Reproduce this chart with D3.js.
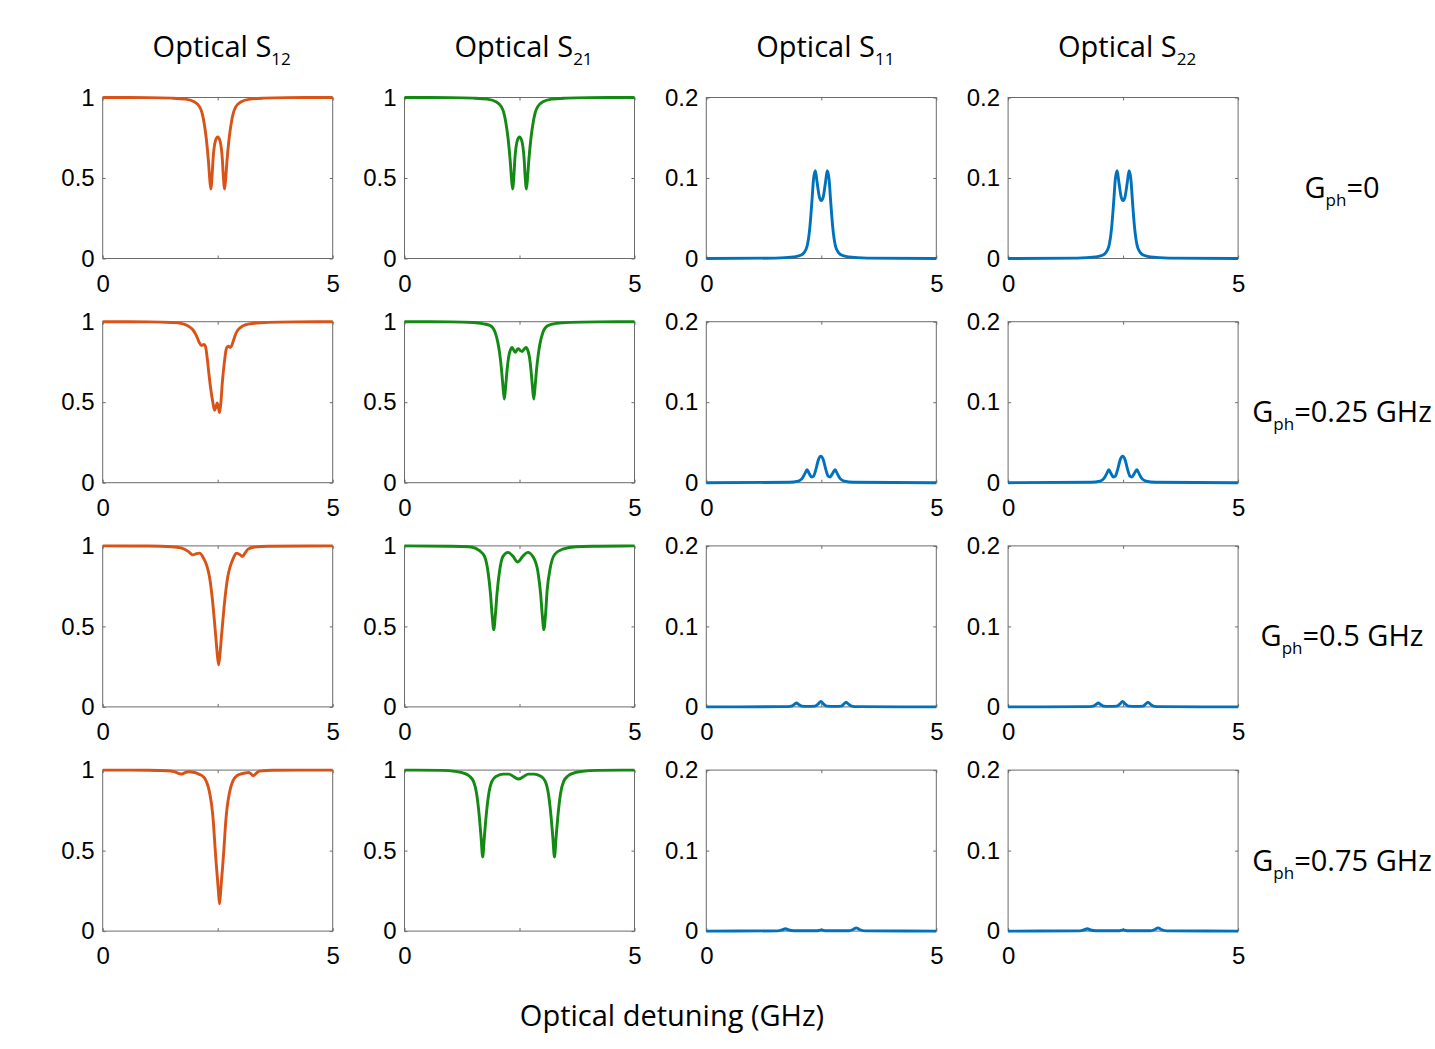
<!DOCTYPE html>
<html><head><meta charset="utf-8">
<script src="https://cdn.jsdelivr.net/npm/d3@7"></script>
<style>body{margin:0;background:#fff}</style>
</head><body>
<svg id="chart" width="1435" height="1049"></svg>
<script>
// ---------- text ----------
const titleMain = ["Optical S", "Optical S", "Optical S", "Optical S"];
const titleSub = ["12", "21", "11", "22"];
const rowLabelMain = "G";
const rowLabelSub = "ph";
const rowLabelValue = ["=0", "=0.25 GHz", "=0.5 GHz", "=0.75 GHz"];
const xAxisTitle = "Optical detuning (GHz)";

// ---------- ticks ----------
const xTicks = [0, 2.5, 5];
const xTickLabels = ["0", "", "5"];
const yTicksT = [0, 0.5, 1];
const yTickLabelsT = ["0", "0.5", "1"];
const yTicksR = [0, 0.1, 0.2];
const yTickLabelsR = ["0", "0.1", "0.2"];

// ---------- data (x detuning GHz, y value) ----------
const s12_G0 = [[0,1],[1,0.999],[1.5,0.996],[1.8,0.99],[2.0,0.972],[2.1,0.945],[2.16,0.905],[2.2,0.85],[2.25,0.75],[2.3,0.6],[2.325,0.5],[2.35,0.432],[2.375,0.5],[2.4,0.62],[2.45,0.73],[2.5,0.755],[2.55,0.73],[2.6,0.62],[2.625,0.5],[2.65,0.432],[2.675,0.5],[2.7,0.6],[2.75,0.75],[2.8,0.85],[2.84,0.905],[2.9,0.945],[3.0,0.972],[3.2,0.99],[3.5,0.996],[4,0.999],[5,1]];
const s12_G025 = [[0,1],[1,0.999],[1.5,0.995],[1.7,0.99],[1.85,0.975],[1.96,0.95],[2.05,0.905],[2.1,0.87],[2.15,0.852],[2.2,0.858],[2.23,0.85],[2.27,0.78],[2.3,0.70],[2.35,0.58],[2.4,0.49],[2.43,0.45],[2.46,0.47],[2.49,0.495],[2.52,0.46],[2.54,0.435],[2.57,0.5],[2.6,0.62],[2.65,0.76],[2.69,0.835],[2.73,0.848],[2.77,0.84],[2.81,0.855],[2.85,0.89],[2.9,0.93],[3.0,0.965],[3.1,0.98],[3.3,0.99],[3.6,0.996],[4.2,0.999],[5,1]];
const s12_G05 = [[0,1],[1,0.999],[1.5,0.995],[1.7,0.988],[1.85,0.968],[1.9,0.955],[1.96,0.944],[2.04,0.952],[2.11,0.955],[2.18,0.93],[2.24,0.895],[2.28,0.86],[2.32,0.81],[2.36,0.73],[2.4,0.625],[2.43,0.53],[2.46,0.43],[2.49,0.33],[2.52,0.262],[2.55,0.33],[2.58,0.43],[2.61,0.53],[2.64,0.625],[2.68,0.73],[2.72,0.81],[2.76,0.86],[2.8,0.895],[2.85,0.93],[2.9,0.955],[2.97,0.948],[3.04,0.934],[3.1,0.958],[3.16,0.98],[3.3,0.993],[3.6,0.998],[5,1]];
const s12_G075 = [[0,1],[1,0.999],[1.4,0.996],[1.55,0.99],[1.65,0.98],[1.71,0.975],[1.78,0.983],[1.86,0.99],[2.0,0.985],[2.09,0.975],[2.19,0.958],[2.25,0.932],[2.29,0.9],[2.33,0.85],[2.37,0.78],[2.405,0.68],[2.44,0.53],[2.465,0.43],[2.49,0.34],[2.515,0.25],[2.54,0.17],[2.565,0.25],[2.59,0.34],[2.615,0.43],[2.64,0.53],[2.675,0.68],[2.71,0.78],[2.75,0.85],[2.79,0.9],[2.83,0.932],[2.89,0.958],[2.99,0.975],[3.1,0.982],[3.16,0.985],[3.22,0.978],[3.27,0.965],[3.33,0.978],[3.41,0.994],[3.7,0.999],[5,1]];

const s21_G0 = [[0,1],[1,0.999],[1.5,0.996],[1.8,0.99],[2.0,0.972],[2.1,0.945],[2.16,0.905],[2.2,0.85],[2.25,0.75],[2.3,0.6],[2.325,0.5],[2.35,0.432],[2.375,0.5],[2.4,0.62],[2.45,0.73],[2.5,0.755],[2.55,0.73],[2.6,0.62],[2.625,0.5],[2.65,0.432],[2.675,0.5],[2.7,0.6],[2.75,0.75],[2.8,0.85],[2.84,0.905],[2.9,0.945],[3.0,0.972],[3.2,0.99],[3.5,0.996],[4,0.999],[5,1]];
const s21_G025 = [[0,1],[1,0.999],[1.5,0.995],[1.7,0.988],[1.87,0.975],[1.97,0.935],[2.03,0.87],[2.07,0.80],[2.11,0.70],[2.14,0.6],[2.17,0.52],[2.20,0.6],[2.23,0.70],[2.27,0.79],[2.31,0.83],[2.34,0.84],[2.38,0.82],[2.41,0.81],[2.45,0.828],[2.48,0.832],[2.52,0.82],[2.56,0.815],[2.6,0.83],[2.64,0.84],[2.67,0.83],[2.71,0.79],[2.75,0.70],[2.78,0.6],[2.81,0.52],[2.84,0.6],[2.87,0.70],[2.91,0.80],[2.95,0.87],[3.01,0.935],[3.11,0.975],[3.3,0.99],[3.6,0.996],[4.2,0.999],[5,1]];
const s21_G05 = [[0,1],[1,0.998],[1.4,0.995],[1.55,0.985],[1.63,0.97],[1.74,0.935],[1.81,0.85],[1.87,0.70],[1.905,0.57],[1.94,0.48],[1.975,0.57],[2.01,0.70],[2.07,0.85],[2.14,0.935],[2.25,0.96],[2.36,0.935],[2.46,0.90],[2.57,0.935],[2.68,0.96],[2.80,0.93],[2.90,0.84],[2.96,0.70],[2.995,0.57],[3.03,0.48],[3.065,0.57],[3.1,0.72],[3.17,0.865],[3.26,0.945],[3.44,0.98],[3.73,0.995],[4.2,0.998],[5,1]];
const s21_G075 = [[0,1],[0.8,0.998],[1.1,0.992],[1.3,0.98],[1.4,0.965],[1.5,0.93],[1.57,0.85],[1.63,0.70],[1.665,0.58],[1.70,0.46],[1.735,0.58],[1.77,0.70],[1.83,0.85],[1.9,0.93],[2.0,0.962],[2.15,0.975],[2.27,0.975],[2.38,0.958],[2.48,0.945],[2.58,0.958],[2.69,0.975],[2.81,0.975],[2.96,0.962],[3.06,0.93],[3.13,0.85],[3.19,0.70],[3.225,0.58],[3.26,0.46],[3.295,0.58],[3.33,0.70],[3.39,0.85],[3.46,0.93],[3.56,0.965],[3.66,0.98],[3.86,0.992],[4.2,0.998],[5,1]];

const s11_G0 = [[0,0],[1.5,0.0005],[1.9,0.002],[2.05,0.004],[2.12,0.007],[2.19,0.015],[2.25,0.038],[2.3,0.074],[2.33,0.098],[2.37,0.109],[2.41,0.094],[2.46,0.076],[2.5,0.072],[2.54,0.076],[2.59,0.094],[2.63,0.109],[2.67,0.098],[2.7,0.074],[2.75,0.038],[2.81,0.015],[2.88,0.007],[2.95,0.004],[3.1,0.002],[3.5,0.0005],[5,0]];
const s11_G025 = [[0,0],[1.8,0.0005],[2.0,0.002],[2.08,0.005],[2.14,0.011],[2.19,0.016],[2.24,0.011],[2.29,0.007],[2.33,0.008],[2.38,0.016],[2.44,0.029],[2.49,0.033],[2.54,0.029],[2.6,0.016],[2.65,0.008],[2.69,0.007],[2.74,0.011],[2.8,0.016],[2.85,0.011],[2.91,0.005],[3.0,0.002],[3.2,0.0005],[5,0]];
const s11_G05 = [[0,0],[1.7,0.0003],[1.85,0.001],[1.91,0.003],[1.96,0.0048],[2.01,0.003],[2.08,0.001],[2.2,0.0006],[2.36,0.001],[2.44,0.004],[2.49,0.0068],[2.54,0.004],[2.62,0.001],[2.8,0.0006],[2.93,0.001],[2.99,0.0035],[3.04,0.0058],[3.09,0.0035],[3.16,0.001],[3.3,0.0003],[5,0]];
const s11_G075 = [[0,0],[1.55,0.0003],[1.65,0.0015],[1.72,0.003],[1.79,0.0015],[1.9,0.0004],[2.4,0.0004],[2.5,0.0015],[2.6,0.0004],[3.1,0.0004],[3.19,0.002],[3.26,0.004],[3.33,0.002],[3.45,0.0003],[5,0]];

// S22 reads identically to S11 in the picture
const s22_G0 = s11_G0;
const s22_G025 = s11_G025;
const s22_G05 = s11_G05;
const s22_G075 = s11_G075;

const grid = [
  [s12_G0,   s21_G0,   s11_G0,   s22_G0],
  [s12_G025, s21_G025, s11_G025, s22_G025],
  [s12_G05,  s21_G05,  s11_G05,  s22_G05],
  [s12_G075, s21_G075, s11_G075, s22_G075]
];
const colColors = ["#D95319", "#138a13", "#0072BD", "#0072BD"];
const colYMax = [1, 1, 0.2, 0.2];

// ---------- layout ----------
const left0 = 102.7, colStep = 301.8, top0 = 97.5, rowStep = 224.2;
const pw = 230, ph = 161;
const axisColor = "#6b6b6b";
const tickFont = "'Liberation Sans', Arial, Helvetica, sans-serif";
const textFont = "'Open Sans', 'Noto Sans', sans-serif";

const svg = d3.select("#chart");
svg.append("rect").attr("width", 1435).attr("height", 1049).attr("fill", "#fff");

function styleAxis(g) {
  g.select(".domain").remove();
  g.selectAll(".tick line").attr("stroke", axisColor);
  g.selectAll(".tick text").attr("font-family", tickFont).attr("font-size", 24).attr("fill", "#000");
}

for (let r = 0; r < 4; r++) {
  for (let c = 0; c < 4; c++) {
    const left = left0 + c * colStep, top = top0 + r * rowStep;
    const g = svg.append("g").attr("transform", `translate(${left},${top})`);
    const x = d3.scaleLinear().domain([0, 5]).range([0, pw]);
    const y = d3.scaleLinear().domain([0, colYMax[c]]).range([ph, 0]);
    const yT = c < 2 ? yTicksT : yTicksR;
    const yL = c < 2 ? yTickLabelsT : yTickLabelsR;

    g.append("rect").attr("width", pw).attr("height", ph)
      .attr("fill", "none").attr("stroke", axisColor).attr("stroke-width", 1);

    g.append("g").attr("transform", `translate(0,${ph})`)
      .call(d3.axisBottom(x).tickValues(xTicks).tickFormat((d, i) => xTickLabels[i])
        .tickSizeInner(-3).tickSizeOuter(0).tickPadding(16))
      .call(styleAxis);
    g.append("g")
      .call(d3.axisTop(x).tickValues(xTicks).tickFormat(() => "")
        .tickSizeInner(-3).tickSizeOuter(0))
      .call(styleAxis);
    g.append("g")
      .call(d3.axisLeft(y).tickValues(yT).tickFormat((d, i) => yL[i])
        .tickSizeInner(-3).tickSizeOuter(0).tickPadding(8))
      .call(styleAxis);
    g.append("g").attr("transform", `translate(${pw},0)`)
      .call(d3.axisRight(y).tickValues(yT).tickFormat(() => "")
        .tickSizeInner(-3).tickSizeOuter(0))
      .call(styleAxis);

    const line = d3.line().x(d => x(d[0])).y(d => y(d[1])).curve(d3.curveMonotoneX);
    g.append("path").datum(grid[r][c]).attr("d", line)
      .attr("fill", "none").attr("stroke", colColors[c])
      .attr("stroke-width", 2.9).attr("stroke-linejoin", "round");
  }
}

// column titles
for (let c = 0; c < 4; c++) {
  const t = svg.append("text").attr("x", left0 + c * colStep + pw / 2 + 4).attr("y", 56.7)
    .attr("text-anchor", "middle").attr("font-family", textFont).attr("font-size", 29).attr("fill", "#000");
  t.append("tspan").text(titleMain[c]);
  t.append("tspan").attr("font-size", 17).attr("dy", 8).text(titleSub[c]);
}

// row labels
for (let r = 0; r < 4; r++) {
  const t = svg.append("text").attr("x", 1342).attr("y", top0 + r * rowStep + ph / 2 + 20)
    .attr("text-anchor", "middle").attr("font-family", textFont).attr("font-size", 29).attr("fill", "#000");
  t.append("tspan").text(rowLabelMain);
  t.append("tspan").attr("font-size", 17).attr("dy", 8).text(rowLabelSub);
  t.append("tspan").attr("dy", -8).text(rowLabelValue[r]);
}

// x axis title
svg.append("text").attr("x", 672).attr("y", 1026).attr("text-anchor", "middle")
  .attr("font-family", textFont).attr("font-size", 29).attr("fill", "#000").text(xAxisTitle);
</script>
</body></html>
